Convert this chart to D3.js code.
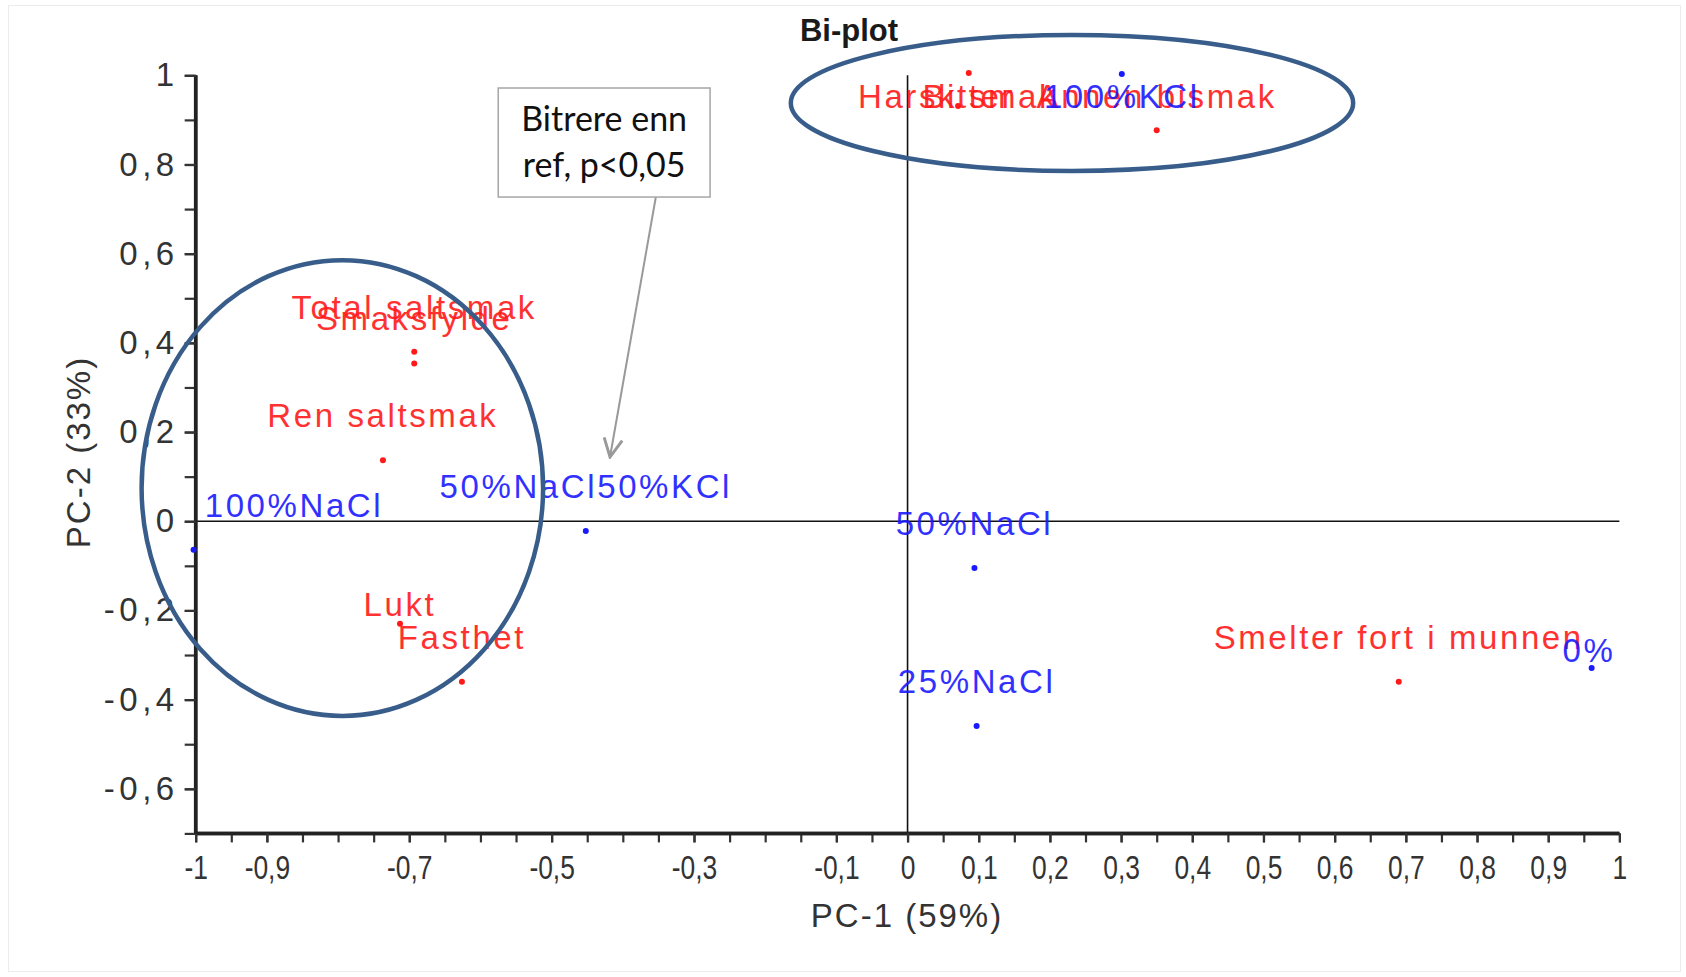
<!DOCTYPE html>
<html>
<head>
<meta charset="utf-8">
<script src="https://cdn.jsdelivr.net/npm/d3@7"></script>
<style>
  body { margin: 0; background: #fff; }
  text { font-family: "Liberation Sans", Arial, sans-serif; }
</style>
</head>
<body>
<script>
// Attribute loadings (red).
const attrNames = ["Harsk smak", "Bitter", "Annen bismak", "Total saltsmak", "Smaksfylde",
                   "Ren saltsmak", "Lukt", "Fasthet", "Smelter fort i munnen"];
const attrPC1 = [0.071, 0.086, 0.350, -0.693, -0.693, -0.737, -0.713, -0.626, 0.690];
const attrPC2 = [0.931, 1.005, 0.877, 0.380, 0.354, 0.137, -0.230, -0.360, -0.360];

// Sample scores (blue).
const sampleNames = ["100%KCl", "100%NaCl", "50%NaCl50%KCl", "50%NaCl", "25%NaCl", "0%"];
const samplePC1 = [0.301, -1.003, -0.452, 0.094, 0.097, 0.961];
const samplePC2 = [1.003, -0.064, -0.022, -0.105, -0.459, -0.329];

// Tick values
const xTickLabels = [-1, -0.9, -0.7, -0.5, -0.3, -0.1, 0, 0.1, 0.2, 0.3, 0.4, 0.5, 0.6, 0.7, 0.8, 0.9, 1];
const yTickLabels = [-0.6, -0.4, -0.2, 0, 0.2, 0.4, 0.6, 0.8, 1];

// Annotation shapes, in data units
const ellipses = [
  { cx: 0.231, cy: 0.938, rx: 0.395, ry: 0.1525 },
  { cx: -0.794, cy: 0.0745, rx: 0.282, ry: 0.511 }
];
const callout = { x0: -0.575, y0: 0.9715, x1: -0.2774, y1: 0.727, ax: -0.3536, ay: 0.727, tx: -0.418, ty: 0.144,
                  lines: ["Bitrere enn", "ref, p<0,05"] };

// labels that sit closer to their point than the default
const labelOffset = { "Lukt": 8, "0%": 6 };

const width = 1686, height = 977;
const svg = d3.select("body").append("svg").attr("width", width).attr("height", height);

// faint frame
svg.append("rect").attr("x", 8.5).attr("y", 5.5).attr("width", 1672).attr("height", 966)
   .attr("fill", "none").attr("stroke", "#ececec");

const xScale = d3.scaleLinear().domain([-1, 1]).range([195.7, 1619.4]);
const yScale = d3.scaleLinear().domain([-0.7, 1]).range([833.4, 75.3]);

const fmt = d3.formatLocale({ decimal: ",", thousands: " ", grouping: [3], currency: ["", ""], minus: "-" }).format("~g");

const g = svg.append("g");

// zero lines
g.append("line").attr("x1", xScale(-1)).attr("x2", xScale(1)).attr("y1", yScale(0)).attr("y2", yScale(0))
 .attr("stroke", "#111").attr("stroke-width", 1.6);
g.append("line").attr("x1", xScale(0)).attr("x2", xScale(0)).attr("y1", yScale(1)).attr("y2", yScale(-0.7))
 .attr("stroke", "#111").attr("stroke-width", 1.6);

// X axis: minor ticks every 0.05
const xMinor = d3.range(0, 41).map(i => -1 + i * 0.05);
g.append("g").attr("class", "x-minor")
 .attr("transform", `translate(0,${yScale(-0.7)})`)
 .call(d3.axisBottom(xScale).tickValues(xMinor).tickSize(9).tickFormat(""));

const xAxis = g.append("g").attr("class", "x-axis")
 .attr("transform", `translate(0,${yScale(-0.7)})`)
 .call(d3.axisBottom(xScale).tickValues(xTickLabels).tickSize(9).tickPadding(13).tickFormat(fmt));
xAxis.selectAll("text")
 .style("font-family", "'Liberation Sans', Arial, sans-serif")
 .style("font-size", "33px").style("fill", "#333")
 .attr("transform", "scale(0.8,1)");

// Y axis
const yMinor = d3.range(0, 18).map(i => -0.7 + i * 0.1);
g.append("g").attr("class", "y-minor")
 .attr("transform", `translate(${xScale(-1)},0)`)
 .call(d3.axisLeft(yScale).tickValues(yMinor).tickSize(11).tickFormat(""));
const yAxis = g.append("g").attr("class", "y-axis")
 .attr("transform", `translate(${xScale(-1)},0)`)
 .call(d3.axisLeft(yScale).tickValues(yTickLabels).tickSize(11).tickPadding(6).tickFormat(fmt));
yAxis.selectAll("text")
 .style("font-family", "'Liberation Sans', Arial, sans-serif")
 .style("font-size", "33px").style("fill", "#333").style("letter-spacing", "4.5px");

g.selectAll(".x-axis path, .x-minor path, .y-axis path, .y-minor path")
 .attr("stroke", "#222").attr("stroke-width", 3.5);
g.selectAll(".x-axis line, .x-minor line, .y-axis line, .y-minor line")
 .attr("stroke", "#333").attr("stroke-width", 2.2);
// drop the outer end ticks of the axis domain path
g.selectAll(".x-minor path").attr("d", `M${xScale(-1)},0H${xScale(1)}`);
g.selectAll(".x-axis path").attr("d", `M${xScale(-1)},0H${xScale(1)}`);
g.selectAll(".y-minor path").attr("d", `M0,${yScale(-0.7)}V${yScale(1)}`);
g.selectAll(".y-axis path").attr("d", `M0,${yScale(-0.7)}V${yScale(1)}`);

// axis titles and title
svg.append("text").attr("x", 849).attr("y", 41).attr("text-anchor", "middle")
   .style("font-size", "31px").style("font-weight", "bold").style("fill", "#1a1a1a").text("Bi-plot");
svg.append("text").attr("x", 907).attr("y", 927).attr("text-anchor", "middle")
   .style("font-size", "33px").style("fill", "#333").style("letter-spacing", "2px").text("PC-1 (59%)");
svg.append("text").attr("transform", "translate(90,452) rotate(-90)").attr("text-anchor", "middle")
   .style("font-size", "33px").style("fill", "#333").style("letter-spacing", "2px").text("PC-2 (33%)");

// points and labels
function drawSeries(names, xs, ys, color) {
  names.forEach((name, i) => {
    const px = xScale(xs[i]), py = yScale(ys[i]);
    g.append("circle").attr("cx", px).attr("cy", py).attr("r", 3).attr("fill", color);
    const off = labelOffset[name] !== undefined ? labelOffset[name] : 33;
    const ly = Math.max(py - off, yScale(1) + 33);
    const t = g.append("text").text(name)
      .attr("y", ly)
      .style("font-size", "33px").style("letter-spacing", "2.6px").style("fill", color)
      .style("opacity", 0.9);
    const w = t.node().getComputedTextLength();
    let left = px - w / 2;
    left = Math.max(left, xScale(-1) + 9);
    left = Math.min(left, xScale(1) - 4 - w);
    t.attr("x", left);
  });
}
drawSeries(attrNames, attrPC1, attrPC2, "#ff1a1a");
drawSeries(sampleNames, samplePC1, samplePC2, "#1a1aff");

// ellipses
g.selectAll("ellipse").data(ellipses).enter().append("ellipse")
 .attr("cx", d => xScale(d.cx)).attr("cy", d => yScale(d.cy))
 .attr("rx", d => xScale(d.rx) - xScale(0)).attr("ry", d => yScale(0) - yScale(d.ry))
 .attr("fill", "none").attr("stroke", "#385d8a").attr("stroke-width", 4.5);

// callout
const defs = svg.append("defs");
defs.append("marker").attr("id", "arr").attr("viewBox", "0 0 12 12").attr("refX", 11).attr("refY", 6)
    .attr("markerWidth", 22).attr("markerHeight", 22).attr("markerUnits", "userSpaceOnUse").attr("orient", "auto")
    .append("path").attr("d", "M1,1 L11,6 L1,11").attr("fill", "none").attr("stroke", "#999").attr("stroke-width", 1.6);

g.append("line")
 .attr("x1", xScale(callout.ax)).attr("y1", yScale(callout.ay))
 .attr("x2", xScale(callout.tx)).attr("y2", yScale(callout.ty))
 .attr("stroke", "#999").attr("stroke-width", 2).attr("marker-end", "url(#arr)");
g.append("rect")
 .attr("x", xScale(callout.x0)).attr("y", yScale(callout.y0))
 .attr("width", xScale(callout.x1) - xScale(callout.x0)).attr("height", yScale(callout.y1) - yScale(callout.y0))
 .attr("fill", "#fff").attr("stroke", "#a6a6a6").attr("stroke-width", 1.5);
callout.lines.forEach((s, i) => {
  g.append("text")
   .attr("x", (xScale(callout.x0) + xScale(callout.x1)) / 2)
   .attr("y", yScale(callout.y0) + 43 + i * 46)
   .attr("text-anchor", "middle")
   .style("font-family", "Lato, 'Liberation Sans', sans-serif")
   .style("font-size", "34px").style("fill", "#111").text(s);
});
</script>
</body>
</html>
